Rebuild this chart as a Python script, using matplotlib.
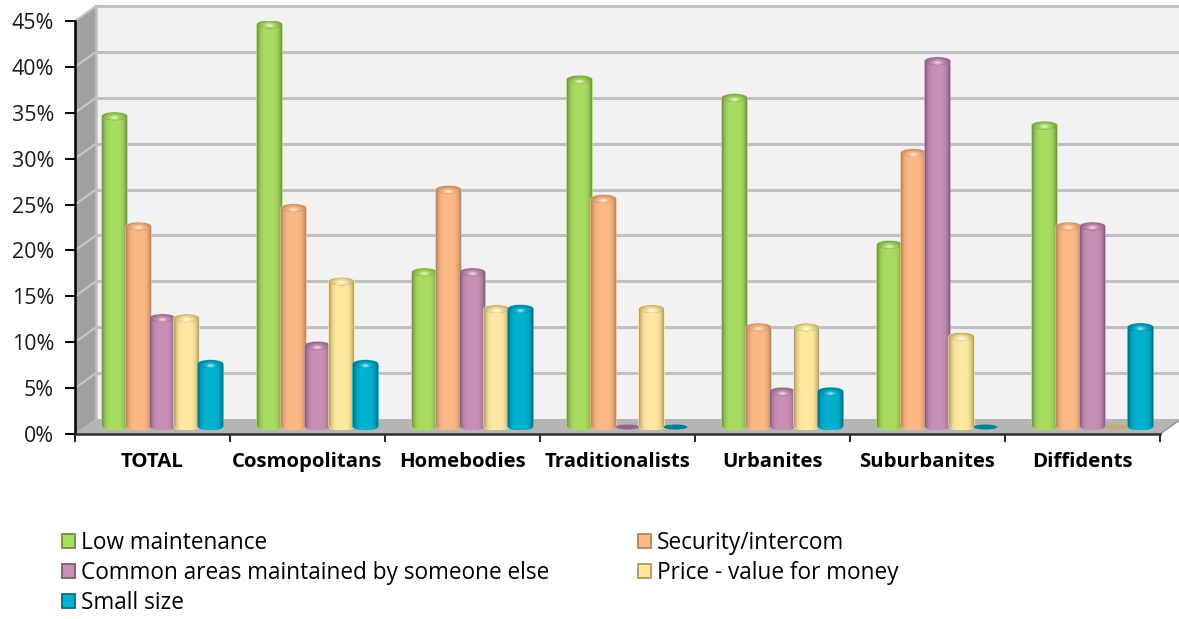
#!/usr/bin/env python3
import numpy as np
import matplotlib
matplotlib.use('Agg')
import matplotlib.pyplot as plt
from matplotlib.colors import to_rgb
from matplotlib.patches import Ellipse, Patch, Polygon

categories = ['TOTAL', 'Cosmopolitans', 'Homebodies', 'Traditionalists',
              'Urbanites', 'Suburbanites', 'Diffidents']
low_maintenance = [34, 44, 17, 38, 36, 20, 33]
security = [22, 24, 26, 25, 11, 30, 22]
common_areas = [12, 9, 17, 0, 4, 40, 22]
price = [12, 16, 13, 13, 11, 10, 0]
small_size = [7, 7, 13, 0, 4, 0, 11]
y_ticks = [0, 5, 10, 15, 20, 25, 30, 35, 40, 45]

series = [
    ('Low maintenance', low_maintenance, '#a9dd62', '#6f8f3c'),
    ('Security/intercom', security, '#fdb985', '#b08461'),
    ('Common areas maintained by someone else', common_areas, '#c98fb4', '#80597a'),
    ('Price - value for money', price, '#ffe8a0', '#ab9a63'),
    ('Small size', small_size, '#00b2d0', '#006f85'),
]

plt.rcParams['font.family'] = ['Open Sans', 'DejaVu Sans']

# px -> data units of the front plane
PX_X = 7 / 1085
PX_Y = 45 / 413

fig = plt.figure(figsize = (11.79, 6.19), dpi = 100)
ax = fig.add_axes([75 / 1179, (619 - 434) / 619, 1085 / 1179, 413 / 619])
ax.set_xlim(0, 7)
ax.set_ylim(0, 45)
ax.patch.set_visible(False)

# 3d box: back wall, side wall, floor
back_x = 21 * PX_X
back_y = 15 * PX_Y
ax.add_patch(Polygon([(back_x, back_y), (7 + back_x, back_y), (7 + back_x, 45 + back_y), (back_x, 45 + back_y)],
                     facecolor = '#f2f2f2', edgecolor = 'none', clip_on = False, zorder = 0))
ax.add_patch(Polygon([(0, 0), (back_x, back_y), (back_x, 45 + back_y), (0, 45)],
                     facecolor = '#a0a0a0', edgecolor = 'none', clip_on = False, zorder = 0))
ax.add_patch(Polygon([(0, 0), (7, 0), (7 + back_x, back_y), (back_x, back_y)],
                     facecolor = '#b5b5b5', edgecolor = 'none', clip_on = False, zorder = 0.5))
for t in y_ticks:
    if t > 0:
        ax.plot([back_x, 7 + back_x], [t + back_y, t + back_y], color = '#c0c0c0', lw = 2.2,
                clip_on = False, zorder = 0.2, solid_capstyle = 'butt')
        ax.plot([0, back_x], [t, t + back_y], color = '#c6c6c6', lw = 1.6, clip_on = False, zorder = 0.2)
ax.plot([back_x, back_x], [back_y, 45 + back_y], color = '#c0c0c0', lw = 1.8, clip_on = False, zorder = 0.3)
ax.plot([7, 7 + back_x], [0, back_y], color = '#8c8c8c', lw = 1, clip_on = False, zorder = 0.6)

# bars
bar_w = 25 * PX_X
step = 24 * PX_X
shift_x = 10 * PX_X
shift_y = 5.5 * PX_Y
cap_h = 3.8 * PX_Y
z = 2.0


def shaded_map(face, edge):
    f = np.array(to_rgb(face))
    e = np.array(to_rgb(edge))
    pos = np.linspace(0, 1, 64)
    w = np.clip(np.abs(pos - 0.5) * 2, 0, 1) ** 4
    return (f * (1 - w[:, None]) + e * w[:, None])[None, :, :]


def cap_map(face, edge):
    f = np.array(to_rgb(face))
    e = np.array(to_rgb(edge))
    yy, xx = np.mgrid[0:1:32j, 0:1:32j]
    d = np.sqrt(((xx - 0.5) / 0.5) ** 2 + ((yy - 0.7) / 0.7) ** 2)
    glow = np.exp(-(d / 0.3) ** 2)[:, :, None] * 0.65
    rim = np.clip(d, 0, 1)[:, :, None] ** 2 * 0.75
    return (f * (1 - rim) + e * rim) * (1 - glow) + glow


def cylinder(cx, value, face, edge):
    global z
    base = shift_y + 3 * PX_Y
    top = value + shift_y
    left = cx - bar_w / 2
    if value == 0:
        flat = 0.25 * np.array(to_rgb(face)) + 0.75 * np.array(to_rgb(edge))
        ax.add_patch(Ellipse((cx, base - 1.5 * PX_Y), bar_w * 0.95, 5 * PX_Y, facecolor = flat,
                             edgecolor = 'none', zorder = z))
        z += 0.1
        return
    th = np.linspace(np.pi, 2 * np.pi, 30)
    # squarer bottom corners than a plain ellipse
    xs = np.r_[cx + bar_w / 2 * np.sign(np.cos(th)) * np.abs(np.cos(th)) ** 0.5, cx - bar_w / 2 * np.cos(th)]
    ys = np.r_[base + cap_h * np.sin(th), top - cap_h * np.sin(th)]
    outline = ax.fill(xs, ys, color = face, zorder = z)[0]
    im = ax.imshow(shaded_map(face, edge), extent = [left, left + bar_w, base - cap_h, top + cap_h],
                   aspect = 'auto', zorder = z + 0.01, interpolation = 'bilinear')
    im.set_clip_path(outline)
    cap = Ellipse((cx, top), bar_w * 0.98, cap_h * 2, facecolor = edge, edgecolor = 'none', zorder = z + 0.02)
    ax.add_patch(cap)
    im2 = ax.imshow(cap_map(face, edge), extent = [left, left + bar_w, top - cap_h, top + cap_h],
                    aspect = 'auto', zorder = z + 0.03, interpolation = 'bilinear')
    im2.set_clip_path(cap)
    z += 0.1


for i, (name, values, face, edge) in enumerate(series):
    for j, v in enumerate(values):
        cylinder(j + 0.5 + shift_x + (i - 2) * step, v, face, edge)

ax.set_xlim(0, 7)
ax.set_ylim(0, 45)

# axes
for side in ['top', 'right']:
    ax.spines[side].set_visible(False)
ax.spines['left'].set_linewidth(1.8)
ax.spines['bottom'].set_linewidth(1.8)
ax.spines['bottom'].set_color('#303030')
ax.spines['left'].set_zorder(10)
ax.spines['bottom'].set_zorder(10)
ax.set_yticks(y_ticks)
ax.set_yticklabels([f'{t}%' for t in y_ticks], fontsize = 15.4, color = '#1a1a1a')
ax.tick_params(axis = 'y', length = 7, width = 1.4, pad = 8)
ax.set_xticks(range(8))
ax.set_xticklabels([])
ax.tick_params(axis = 'x', which = 'major', length = 6, width = 1.2)
ax.set_xticks(np.arange(7) + 0.5, minor = True)
ax.set_xticklabels(categories, minor = True)
ax.tick_params(axis = 'x', which = 'minor', length = 0, pad = 13, labelsize = 14.7)
for label in ax.get_xticklabels(minor = True):
    label.set_fontweight('bold')
    label.set_color('black')

# legend is filled by column, reference reads by row
order = [0, 2, 4, 1, 3]
handles = [Patch(facecolor = series[k][2], edgecolor = series[k][3], linewidth = 1.3, label = series[k][0])
           for k in order]
ax.legend(handles = handles, ncol = 2, loc = 'upper left', bbox_to_anchor = (62 / 1179, (619 - 531) / 619),
          bbox_transform = fig.transFigure, frameon = False, fontsize = 16.3, handlelength = 0.58,
          handleheight = 0.58, handletextpad = 0.28, labelspacing = 0.27, columnspacing = 3.88,
          borderpad = 0, borderaxespad = 0)

fig.savefig('out.png', dpi = 100)
